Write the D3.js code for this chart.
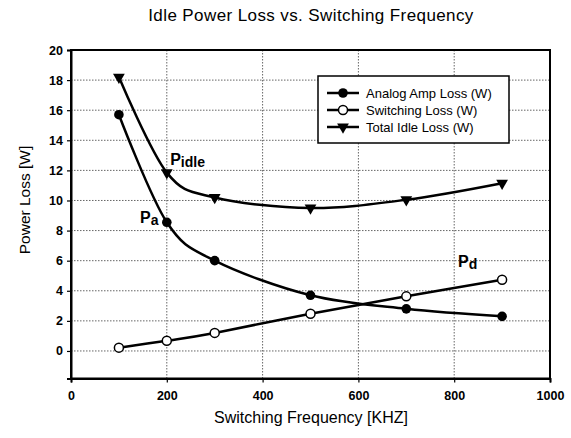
<!DOCTYPE html>
<html><head><meta charset="utf-8">
<script src="https://cdn.jsdelivr.net/npm/d3@7"></script>
<style>body{margin:0;background:#fff}svg{display:block}</style>
</head><body>
<svg id="c" width="571" height="438"></svg>
<script>
const freqs = [100, 200, 300, 500, 700, 900];
const analogLoss = [15.7, 8.55, 6.0, 3.7, 2.8, 2.3];
const switchingLoss = [0.22, 0.68, 1.2, 2.47, 3.63, 4.73];
const totalLoss = [18.2, 11.85, 10.2, 9.5, 10.05, 11.15];
const seriesNames = ["Analog Amp Loss (W)", "Switching Loss (W)", "Total Idle Loss (W)"];
const xTicks = [0, 200, 400, 600, 800, 1000];
const yTicks = [0, 2, 4, 6, 8, 10, 12, 14, 16, 18, 20];
const annotations = [
  {main: "P", sub: "idle", x: 207, y: 12.35},
  {main: "P", sub: "a", x: 144, y: 8.5},
  {main: "P", sub: "d", x: 808, y: 5.55}
];

const svg = d3.select("#c");
const font = "'Liberation Sans', Arial, sans-serif";
const L = 71, R = 550, T = 50, B = 378.5;
const x = d3.scaleLinear().domain([0, 1000]).range([L, R]);
const y = d3.scaleLinear().domain([-1.83, 20]).range([B, T]);

// gridlines
const g = svg.append("g");
g.selectAll(".hg").data(yTicks.filter(d => d < 20)).join("line")
  .attr("x1", L).attr("x2", R).attr("y1", d => y(d)).attr("y2", d => y(d))
  .attr("stroke", "#666").attr("stroke-width", 1).attr("stroke-dasharray", "1.5,1.5");
g.selectAll(".vg").data(xTicks.filter(d => d > 0 && d < 1000)).join("line")
  .attr("y1", T).attr("y2", B).attr("x1", d => x(d)).attr("x2", d => x(d))
  .attr("stroke", "#666").attr("stroke-width", 1).attr("stroke-dasharray", "1.5,1.5");

// frame
svg.append("rect").attr("x", L).attr("y", T).attr("width", R - L).attr("height", B - T)
  .attr("fill", "none").attr("stroke", "#000").attr("stroke-width", 2);

// axes
const xAxis = svg.append("g").attr("transform", `translate(0,${B})`)
  .call(d3.axisBottom(x).tickValues(xTicks).tickFormat(d3.format("d")).tickSize(4).tickPadding(9));
const yAxis = svg.append("g").attr("transform", `translate(${L},0)`)
  .call(d3.axisLeft(y).tickValues(yTicks).tickFormat(d3.format("d")).tickSize(4).tickPadding(4));
[xAxis, yAxis].forEach(a => {
  a.select(".domain").attr("stroke", "#000").attr("stroke-width", 2);
  a.selectAll(".tick line").attr("stroke", "#000").attr("stroke-width", 1.2);
  a.selectAll("text").attr("font-family", font).attr("font-size", 12.5).attr("font-weight", "bold").attr("fill", "#000");
});

// lines
const line = d3.line().x(d => x(d[0])).y(d => y(d[1])).curve(d3.curveCardinal.tension(0));
const series = [analogLoss, switchingLoss, totalLoss];
series.forEach(vals => {
  svg.append("path").datum(freqs.map((f, i) => [f, vals[i]]))
    .attr("d", line).attr("fill", "none").attr("stroke", "#000").attr("stroke-width", 2.5);
});

const tri = d3.symbol().type(d3.symbolTriangle).size(60);
function marker(sel, type) {
  if (type === 0) sel.append("circle").attr("r", 4.8).attr("fill", "#000");
  else if (type === 1) sel.append("circle").attr("r", 4.5).attr("fill", "#fff").attr("stroke", "#000").attr("stroke-width", 1.5);
  else sel.append("path").attr("d", tri()).attr("transform", "rotate(180)").attr("fill", "#000");
}
series.forEach((vals, s) => {
  freqs.forEach((f, i) => {
    const m = svg.append("g").attr("transform", `translate(${x(f)},${y(vals[i])})`);
    marker(m, s);
  });
});

// annotations
annotations.forEach(a => {
  const t = svg.append("text").attr("x", x(a.x)).attr("y", y(a.y))
    .attr("font-family", font).attr("font-weight", "bold").attr("fill", "#000");
  t.append("tspan").attr("font-size", 16).text(a.main);
  t.append("tspan").attr("font-size", 14).attr("dy", 2).text(a.sub);
});

// legend
const lg = svg.append("g");
lg.append("rect").attr("x", 318).attr("y", 76).attr("width", 191).attr("height", 67)
  .attr("fill", "#fff").attr("stroke", "#000").attr("stroke-width", 1.5);
seriesNames.forEach((n, i) => {
  const yy = 93 + i * 17;
  lg.append("line").attr("x1", 327).attr("x2", 359).attr("y1", yy).attr("y2", yy)
    .attr("stroke", "#000").attr("stroke-width", 2.5);
  marker(lg.append("g").attr("transform", `translate(343,${yy})`), i);
  lg.append("text").attr("x", 366).attr("y", yy + 4.5).text(n)
    .attr("font-family", font).attr("font-size", 13).attr("fill", "#000");
});

// titles
svg.append("text").attr("x", 311).attr("y", 21).attr("text-anchor", "middle")
  .attr("font-family", font).attr("font-size", 17).attr("letter-spacing", 0.4).attr("fill", "#000")
  .text("Idle Power Loss vs. Switching Frequency");
svg.append("text").attr("x", 311).attr("y", 423).attr("text-anchor", "middle")
  .attr("font-family", font).attr("font-size", 16).attr("fill", "#000")
  .text("Switching Frequency [KHZ]");
svg.append("text").attr("transform", "translate(30,200) rotate(-90)").attr("text-anchor", "middle")
  .attr("font-family", font).attr("font-size", 15.5).attr("fill", "#000")
  .text("Power Loss [W]");
</script>
</body></html>
